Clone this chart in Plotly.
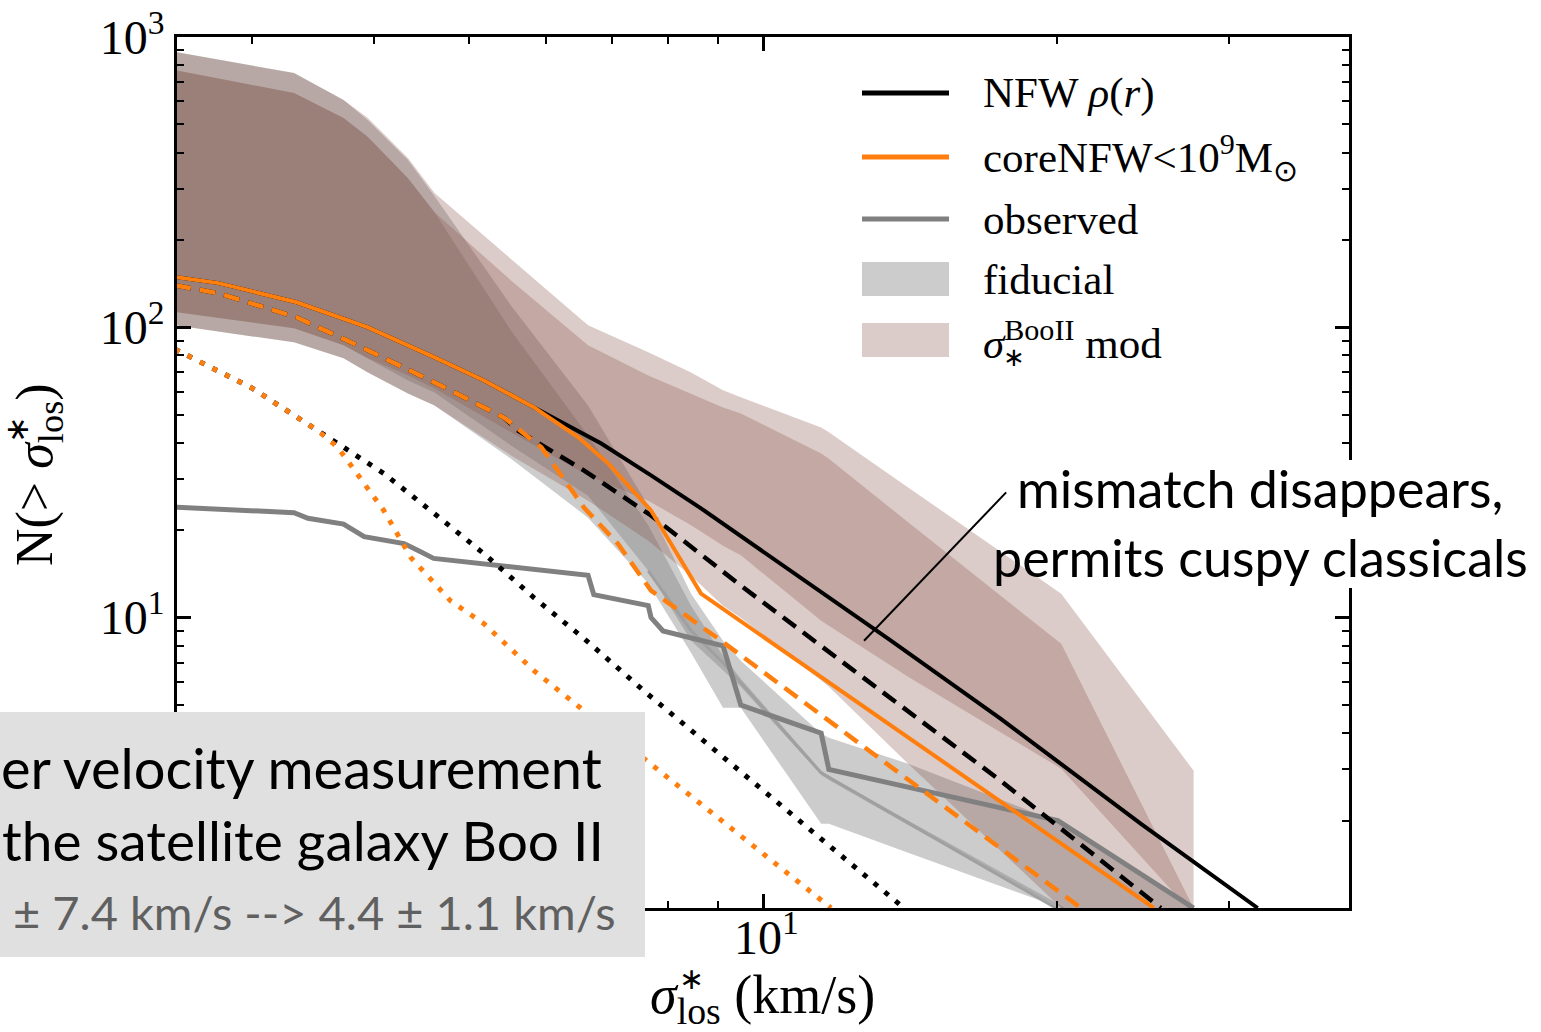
import plotly.graph_objects as go

# ---------------- data ----------------
# common velocity grid (km/s) on which the model bands are tabulated
band_sigma = [2.50, 3.31, 3.72, 3.94, 4.33, 4.61, 5.52, 6.62, 7.63, 8.44,
              9.10, 9.49, 11.47, 11.68, 14.08, 20.2, 27.6]

# fiducial model: 95% and 68% envelopes of N(>sigma)
fid95_hi = [888, 751, 607, 517, 377, 283, 119, 53.8, 24.3, 12.1, 8.33, 7.11, 3.98, 3.86, 3.14, 1.96, 1.0]
fid95_lo = [101.6, 88.8, 78.2, 69.9, 59.2, 53.8, 35.3, 22.1, 13.1, 7.57, 4.89, 4.89, 1.95, 1.95, 1.55, 1.0, 0.47]
fid68_hi = [769, 641, 526, 452, 326, 249, 97.6, 42.4, 20.8, 11.0, 7.40, 6.16, 2.97, 2.85, 2.0, 1.02, 0.47]
fid68_lo = [113, 99.2, 86.7, 78.2, 65.6, 59.7, 39.2, 26.3, 14.5, 8.33, 6.56, 5.78, 2.87, 2.76, 1.93, 0.99, 0.47]

# Boo II-modified model: 95% and 68% envelopes
boo95_hi = [888, 751, 607, 526, 383, 290, 172, 101.6, 82.0, 69.9, 60.7, 57.4, 45.2, 43.5, 28.1, 12.1, 2.97]
boo95_lo = [101.6, 88.8, 78.2, 69.9, 59.2, 53.8, 36.2, 25.3, 18.4, 13.95, 11.0, 10.0, 6.07, 5.78, 3.14, 1.0, 0.5]
boo68_hi = [769, 641, 526, 452, 326, 249, 145, 86.7, 68.3, 59.2, 53.0, 50.5, 36.8, 35.3, 21.3, 8.13, 1.0]
boo68_lo = [113, 99.2, 86.7, 78.2, 68.3, 61.6, 43.5, 30.9, 25.3, 20.8, 17.7, 16.4, 9.76, 9.38, 6.26, 3.02, 0.95]

# fiducial median
fid_med_sigma = [7.63, 8.44, 9.12, 11.47, 19.95]
fid_med_N = [14.5, 9.02, 6.94, 2.92, 1.0]

# observed satellites, cumulative count
obs_sigma = [2.50, 3.31, 3.42, 3.72, 3.905, 4.29, 4.44, 4.60, 6.62, 6.71,
             7.63, 7.68, 7.90, 9.10, 9.49, 11.47, 11.68, 20.04, 27.6]
obs_N = [24, 23, 22, 21, 19, 18, 17, 16, 14, 12, 11, 10, 9, 8, 5, 4, 3, 2, 1]

# NFW rho(r)
nfw_sigma = [2.50, 2.77, 3.33, 3.94, 4.61, 5.18, 5.83, 6.83, 7.68, 8.64, 13.52, 17.52, 24.38, 32.1]
nfw_N = [149, 142, 122, 100, 78.8, 65.6, 53.0, 39.8, 30.9, 23.8, 8.33, 4.48, 1.95, 1.0]
nfw_dash_sigma = [2.50, 2.77, 3.33, 3.905, 4.61, 5.43, 5.61, 6.56, 7.68, 9.49, 11.28, 13.84, 17.52, 25.55]
nfw_dash_N = [139.6, 131, 108.3, 84.6, 64.6, 48.9, 44.1, 32.1, 22.5, 12.9, 8.33, 4.97, 2.74, 1.0]
nfw_dot_sigma = [2.50, 2.99, 3.50, 4.09, 4.61, 5.18, 5.83, 6.56, 7.55, 13.94]
nfw_dot_N = [84.0, 62.1, 44.1, 31.4, 22.8, 16.6, 11.7, 8.47, 5.60, 1.0]

# coreNFW < 1e9 Msun
core_sigma = [2.50, 2.77, 3.33, 3.94, 4.61, 5.18, 5.83, 6.47, 6.94, 7.68, 8.64, 25.13]
core_N = [149, 142, 122, 100, 78.8, 65.6, 53.0, 41.8, 34.0, 23.4, 12.1, 1.0]
core_dash_sigma = [2.50, 2.77, 3.33, 3.905, 4.61, 5.43, 5.93, 6.56, 7.10, 7.68, 9.06, 21.16]
core_dash_N = [139.6, 131, 108.3, 84.6, 64.6, 48.9, 38.6, 23.9, 18.0, 12.4, 8.33, 1.0]
core_dot_sigma = [2.50, 2.99, 3.50, 3.67, 4.09, 4.36, 4.79, 5.18, 5.83, 6.56, 7.63, 11.74]
core_dot_N = [84.0, 62.1, 44.1, 38.6, 23.4, 16.1, 11.4, 9.53, 6.56, 4.78, 3.21, 1.0]

# pointer for the annotation (sigma, N)
pointer_sigma = [17.74, 12.69]
pointer_N = [27.0, 8.33]

x_major = [10]
y_major = [1, 10, 100, 1000]
y_major_text = ["", "10<sup>1</sup>", "10<sup>2</sup>", "10<sup>3</sup>"]
x_minor = [3, 4, 5, 6, 7, 8, 9, 20, 30]
y_minor = [2, 3, 4, 5, 6, 7, 8, 9, 20, 30, 40, 50, 60, 70, 80, 90,
           200, 300, 400, 500, 600, 700, 800, 900]

# ---------------- styles ----------------
GRAY_FILL = "rgba(127,127,127,0.4)"
BROWN_FILL = "rgba(140,86,75,0.3)"
ORANGE = "#ff7f0e"
OBS_GRAY = "#808080"
SERIF = "Liberation Serif"
SANS = "Lato"

fig = go.Figure()


def add_band(lo, hi, color):
    fig.add_trace(go.Scatter(x=band_sigma, y=lo, mode="lines", line=dict(width=0),
                             hoverinfo="skip", showlegend=False))
    fig.add_trace(go.Scatter(x=band_sigma, y=hi, mode="lines", line=dict(width=0),
                             fill="tonexty", fillcolor=color,
                             hoverinfo="skip", showlegend=False))


add_band(fid95_lo, fid95_hi, GRAY_FILL)
add_band(fid68_lo, fid68_hi, GRAY_FILL)
add_band(boo95_lo, boo95_hi, BROWN_FILL)
add_band(boo68_lo, boo68_hi, BROWN_FILL)


def add_line(x, y, color, width, dash="solid"):
    fig.add_trace(go.Scatter(x=x, y=y, mode="lines",
                             line=dict(color=color, width=width, dash=dash),
                             hoverinfo="skip", showlegend=False))


DOT = "5px,9px"
DASH = "16px,9px"
add_line(fid_med_sigma, fid_med_N, "#a0a0a0", 3)
add_line(obs_sigma, obs_N, OBS_GRAY, 5)
add_line(nfw_dot_sigma, nfw_dot_N, "black", 5, DOT)
add_line(core_dot_sigma, core_dot_N, ORANGE, 5, DOT)
add_line(nfw_dash_sigma, nfw_dash_N, "black", 4.5, DASH)
add_line(core_dash_sigma, core_dash_N, ORANGE, 4.5, DASH)
add_line(nfw_sigma, nfw_N, "black", 4)
add_line(core_sigma, core_N, ORANGE, 4)
add_line(pointer_sigma, pointer_N, "black", 2)

# ---------------- layout ----------------
W, H = 1541, 1032
L, R, T, B = 177, 192, 37, 124
PW, PH = W - L - R, H - T - B


def px(xpix):
    return (xpix - L) / PW


def py(ypix):
    return (T + PH - ypix) / PH


axis_common = dict(
    showline=True, linewidth=2.5, linecolor="black", mirror="allticks",
    ticks="inside", ticklen=14, tickwidth=2.5, tickcolor="black",
    showgrid=False, zeroline=False, automargin=False,
    tickfont=dict(family=SERIF, size=48, color="black"),
)

fig.update_layout(
    width=W, height=H,
    margin=dict(l=L, r=R, t=T, b=B, pad=0, autoexpand=False),
    paper_bgcolor="white", plot_bgcolor="white",
    showlegend=False,
    xaxis=dict(
        type="log", range=[0.4, 1.6],
        tickmode="array", tickvals=x_major, ticktext=[""],
        minor=dict(tickmode="array", tickvals=x_minor, ticks="inside",
                   ticklen=7, tickwidth=2, tickcolor="black"),
        **axis_common,
    ),
    yaxis=dict(
        type="log", range=[0, 3],
        tickmode="array", tickvals=y_major, ticktext=y_major_text,
        minor=dict(tickmode="array", tickvals=y_minor, ticks="inside",
                   ticklen=7, tickwidth=2, tickcolor="black"),
        **axis_common,
    ),
)

shapes = []
annotations = []


def note(xpix, ypix, text, size, family=SERIF, color="black",
         xanchor="left", angle=0):
    annotations.append(dict(xref="paper", yref="paper", x=px(xpix), y=py(ypix),
                            xanchor=xanchor, yanchor="middle", showarrow=False,
                            text=text, textangle=angle,
                            font=dict(family=family, size=size, color=color)))


# x tick label, set close under the frame
note(766, 934, "10<sup>1</sup>", 48, xanchor="center")

# axis titles (the asterisk sits above the "los" subscript)
note(762, 998, "<i>σ</i><sub>los</sub> (km/s)", 54, xanchor="center")
note(691, 978, "∗", 30, xanchor="center")
note(38, 475, "N(&gt; <i>σ</i><sub>los</sub>)", 52, xanchor="center", angle=-90)
note(17, 430, "∗", 32, xanchor="center", angle=-90)

# legend
legend_rows = [
    ("line", "black", "NFW <i>ρ</i>(<i>r</i>)", 93),
    ("line", ORANGE, "coreNFW&lt;10<sup>9</sup>M<sub>⊙</sub>", 157),
    ("line", OBS_GRAY, "observed", 219),
    ("box", GRAY_FILL, "fiducial", 279),
    ("box", BROWN_FILL, "<i>σ</i><sup>BooII</sup> mod", 340),
]
for kind, color, label, yc in legend_rows:
    if kind == "line":
        shapes.append(dict(type="line", xref="paper", yref="paper",
                           x0=px(862), x1=px(949), y0=py(yc), y1=py(yc),
                           line=dict(color=color, width=5), layer="above"))
    else:
        shapes.append(dict(type="rect", xref="paper", yref="paper",
                           x0=px(862), x1=px(949), y0=py(yc - 17), y1=py(yc + 17),
                           fillcolor=color, line=dict(width=0), layer="above"))
    note(981, yc, label, 43)
note(1014, 358, "∗", 26, xanchor="center")

# white patch behind the annotation where it crosses the frame
shapes.append(dict(type="rect", xref="paper", yref="paper",
                   x0=px(1300), x1=px(1535), y0=py(460), y1=py(588),
                   fillcolor="white", line=dict(width=0), layer="above"))
note(1260, 488, "mismatch disappears,", 52, family=SANS, xanchor="center")
note(1260, 557, "permits cuspy classicals", 52, family=SANS, xanchor="center")

# grey caption box in the lower-left corner
shapes.append(dict(type="rect", xref="paper", yref="paper",
                   x0=px(-5), x1=px(645), y0=py(712), y1=py(957),
                   fillcolor="#e0e0e0", line=dict(width=0), layer="above"))
note(604, 767, "er velocity measurement", 56, family=SANS, xanchor="right")
note(606, 840, "the satellite galaxy Boo II", 55, family=SANS, xanchor="right")
note(618, 912, "± 7.4 km/s --&gt; 4.4 ± 1.1 km/s", 47, family=SANS,
     color="#606060", xanchor="right")

fig.update_layout(shapes=shapes, annotations=annotations)

fig.write_html("out.html")
